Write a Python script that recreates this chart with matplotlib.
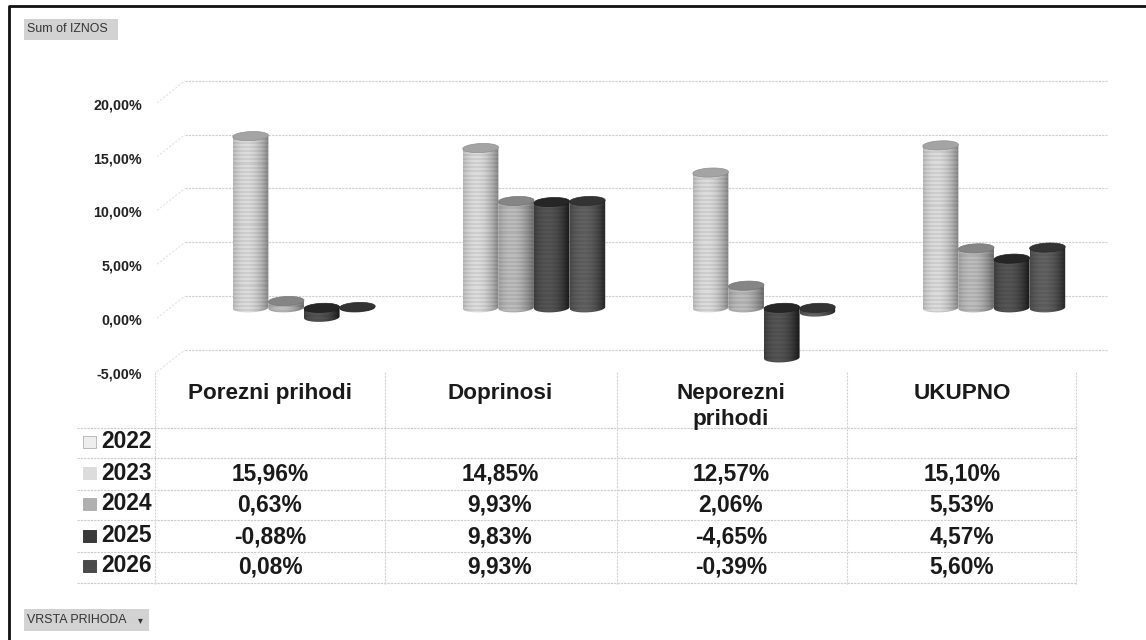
#!/usr/bin/env python3
"""Scanned pivot chart: cylinders over a data table, saved as out.png."""

import matplotlib
matplotlib.use("Agg")
import matplotlib.pyplot as plt
import numpy as np
from matplotlib.patches import Polygon, Rectangle

plt.rcParams["font.family"] = ["Liberation Sans", "DejaVu Sans"]

CATEGORIES = ["Porezni prihodi", "Doprinosi", "Neporezni\nprihodi", "UKUPNO"]
YEARS = ["2022", "2023", "2024", "2025", "2026"]
VALUES_2023 = [15.96, 14.85, 12.57, 15.10]
VALUES_2024 = [0.63, 9.93, 2.06, 5.53]
VALUES_2025 = [-0.88, 9.83, -4.65, 4.57]
VALUES_2026 = [0.08, 9.93, -0.39, 5.60]
Y_TICKS = [20, 15, 10, 5, 0, -5]

W, H = 1146, 640
PX_PER_PCT = 10.76   # vertical scale of the scan
ZERO_PX = 296        # zero line on the back wall
GROUP_PX = 230       # distance between categories
FIRST_PX = 304       # centre of the first category
BAR_W = 35.6 / GROUP_PX
BASE = -1.1          # cylinders stand in front of the back wall
CAP_B = 0.42
CAP_TILT = 0.07

# (dark edge, light core, top cap)
SHADES = {
    "2023": ("#8f8f8f", "#dddddd", "#a4a4a4"),
    "2024": ("#777777", "#bdbdbd", "#858585"),
    "2025": ("#1e1e1e", "#555555", "#262626"),
    "2026": ("#2a2a2a", "#626262", "#333333"),
}


def fmt(v):
    return f"{v:.2f}".replace(".", ",") + "%"


def cap_points(xc, yc, half):
    t = np.linspace(0, 2 * np.pi, 60)
    return np.column_stack([xc + half * np.cos(t),
                            yc + CAP_B * np.sin(t) + CAP_TILT * np.cos(t)])


def draw_cylinder(ax, xc, value, shades):
    edge, core, top = shades
    half = BAR_W / 2
    hi = BASE + max(value, 0)
    lo = BASE + min(value, 0)
    t = np.linspace(np.pi, 2 * np.pi, 30)
    bottom = np.column_stack([xc + half * np.cos(t),
                              lo + CAP_B * np.sin(t) + CAP_TILT * np.cos(t)])
    outline = np.vstack([bottom, [[xc + half, hi + CAP_TILT]], [[xc - half, hi - CAP_TILT]]])
    body = Polygon(outline, closed=True, facecolor="none", edgecolor="none", zorder=3)
    ax.add_patch(body)

    # gradient across the cylinder, with the horizontal banding of the scan
    e = np.array(matplotlib.colors.to_rgb(edge))
    c = np.array(matplotlib.colors.to_rgb(core))
    u = np.linspace(-1, 1, 36)
    s = np.clip(1 - np.abs(u + 0.25) ** 2 / 1.4, 0, 1)[:, None]
    row = e + (c - e) * s
    n_rows = max(2, int((hi - lo + 2 * CAP_B) * PX_PER_PCT / 2))
    img = np.repeat(row[None, :, :], n_rows, axis=0)
    img[1::2] *= 0.93
    im = ax.imshow(img, extent=(xc - half, xc + half, lo - CAP_B - 0.2, hi + CAP_B),
                   aspect="auto", interpolation="nearest", zorder=3)
    im.set_clip_path(body)

    ax.add_patch(Polygon(cap_points(xc, hi, half), closed=True, facecolor=top,
                         edgecolor=edge, linewidth=0.5, zorder=4))


def draw_chart(ax):
    ax.set_xlim(-FIRST_PX / GROUP_PX, (W - FIRST_PX) / GROUP_PX)
    ax.set_ylim((ZERO_PX - H) / PX_PER_PCT, ZERO_PX / PX_PER_PCT)
    ax.axis("off")

    x_back = (185 - FIRST_PX) / GROUP_PX
    x_side = (157 - FIRST_PX) / GROUP_PX
    x_end = (1107 - FIRST_PX) / GROUP_PX
    for v in Y_TICKS:
        ax.plot([x_back, x_end], [v, v], color="#d0d0d0", lw=0.8, ls=(0, (2, 1)), zorder=1)
        ax.plot([x_side, x_back], [v - 2.05, v], color="#e2e2e2", lw=0.8,
                ls=(0, (2, 1.5)), zorder=1)
        ax.text((142 - FIRST_PX) / GROUP_PX, v - 2.28, fmt(v), ha="right", va="center",
                fontsize=10.3, fontweight="bold", color="#222222")

    series = [("2023", VALUES_2023), ("2024", VALUES_2024),
              ("2025", VALUES_2025), ("2026", VALUES_2026)]
    for i in range(len(CATEGORIES)):
        for j, (year, vals) in enumerate(series):
            draw_cylinder(ax, i + (j - 1.5) * BAR_W, vals[i], SHADES[year])


def button(ax, x0, y0, x1, y1, label):
    ax.add_patch(Rectangle((x0, y0), x1 - x0, y1 - y0, facecolor="#d2d2d2", edgecolor="none"))
    ax.text(x0 + 3, (y0 + y1) / 2, label, ha="left", va="center", fontsize=8.9,
            color="#333333")


def draw_overlay(ax):
    ax.set_xlim(0, W)
    ax.set_ylim(H, 0)
    ax.axis("off")
    ax.patch.set_alpha(0)

    # scanned page frame
    ax.plot([1146, 9, 9], [6, 6, 640], color="#111111", lw=2)

    button(ax, 24, 19, 118, 40, "Sum of IZNOS")
    button(ax, 24, 609, 149, 631, "VRSTA PRIHODA")
    ax.text(140, 620, "\u25be", ha="center", va="center", fontsize=7, color="#333333",
            family="DejaVu Sans")

    # table grid
    for y in [428, 458, 490, 520, 552, 583]:
        ax.plot([77, 1076], [y, y], color="#cccccc", lw=0.8, ls=(0, (2, 1)))
    for x in [155, 385, 617, 847, 1076]:
        ax.plot([x, x], [372, 585], color="#d4d4d4", lw=0.8, ls=(0, (2, 1)))

    xs = [270, 500, 731, 962]
    for x, name in zip(xs, CATEGORIES):
        ax.text(x, 383, name, ha="center", va="top", fontsize=16.2, fontweight="bold",
                color="#1a1a1a", linespacing=1.3)

    rows_y = [442, 473, 504, 536, 566]
    swatches = ["#eeeeee", "#dcdcdc", "#b0b0b0", "#3a3a3a", "#4a4a4a"]
    rows = [None, VALUES_2023, VALUES_2024, VALUES_2025, VALUES_2026]
    for y, year, sw, vals in zip(rows_y, YEARS, swatches, rows):
        ax.add_patch(Rectangle((83, y - 6), 13, 12, facecolor=sw,
                               edgecolor="#bbbbbb" if year == "2022" else sw, lw=0.7))
        ax.text(101, y, year, ha="left", va="center", fontsize=16.4, fontweight="bold",
                color="#1a1a1a")
        if vals is None:
            continue
        for x, v in zip(xs, vals):
            ax.text(x, y + 1, fmt(v), ha="center", va="center", fontsize=16.4,
                    fontweight="bold", color="#1a1a1a")


def main():
    fig = plt.figure(figsize=(W / 100, H / 100), dpi=100, facecolor="white")
    chart = fig.add_axes([0, 0, 1, 1])
    draw_chart(chart)
    overlay = fig.add_axes([0, 0, 1, 1])
    draw_overlay(overlay)
    fig.savefig("out.png", dpi=100)


if __name__ == "__main__":
    main()
